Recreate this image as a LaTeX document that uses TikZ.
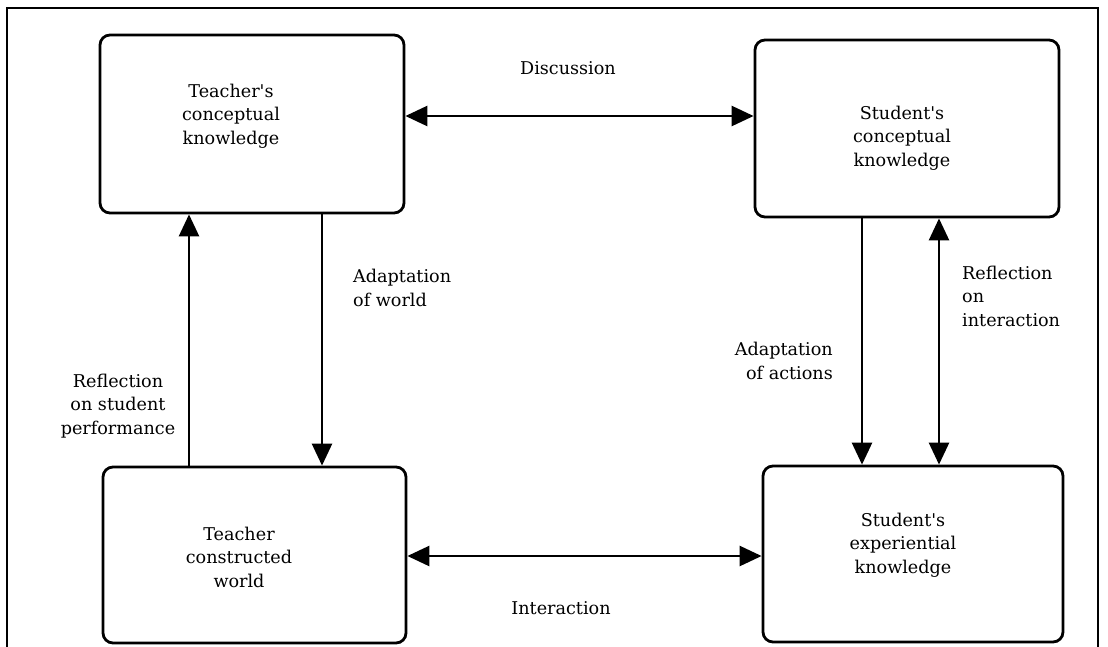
\documentclass[tikz,border=0pt]{standalone}
\usepackage{fontspec}
\setmainfont{DejaVu Serif}
\usetikzlibrary{arrows.meta}
\begin{document}
\begin{tikzpicture}[x=1pt,y=-1pt,
  box/.style={draw,line width=2.8pt,rounded corners=10pt,inner sep=0pt},
  txt/.style={align=center,font=\fontsize{17.6}{23.5}\selectfont,inner sep=0pt},
  lbl/.style={font=\fontsize{17.6}{23.5}\selectfont,inner sep=0pt},
  conn/.style={line width=2.6pt,-{Triangle[length=22pt,width=20pt]}},
  conn2/.style={line width=2.6pt,{Triangle[length=22pt,width=20pt]}-{Triangle[length=22pt,width=20pt]}}]
\useasboundingbox (0,0) rectangle (1108,646);
\draw[line width=1.3pt] (7,660) -- (7,8) -- (1098,8) -- (1098,660);
% boxes
\node[box,minimum width=304pt,minimum height=178pt] (tl) at (252,124) {};
\node[box,minimum width=304pt,minimum height=177pt] (tr) at (907,128.5) {};
\node[box,minimum width=303pt,minimum height=176pt] (bl) at (254.5,555) {};
\node[box,minimum width=300pt,minimum height=176pt] (br) at (913,554) {};
% box texts
\node[txt] (tlt) at (231,116) {Teacher\textquotesingle s\\conceptual\\knowledge};
\node[txt] (trt) at (902,138) {Student\textquotesingle s\\conceptual\\knowledge};
\node[txt] (blt) at (239,557) {Teacher\\constructed\\world};
\node[txt] (brt) at (903,545) {Student\textquotesingle s\\experiential\\knowledge};
% connector guide coordinates
\coordinate (ydisc) at (0,116);
\coordinate (yint) at (0,556);
\coordinate (xrefl) at (189,0);
\coordinate (xadw) at (322,0);
\coordinate (xada) at (862,0);
\coordinate (xrint) at (939,0);
% connectors
\draw[conn2] (tl.east |- ydisc) -- (tr.west |- ydisc);
\draw[conn2] (bl.east |- yint) -- (br.west |- yint);
\draw[conn] (bl.north -| xrefl) -- (tl.south -| xrefl);
\draw[conn] (tl.south -| xadw) -- (bl.north -| xadw);
\draw[conn] (tr.south -| xada) -- (br.north -| xada);
\draw[conn2] (tr.south -| xrint) -- (br.north -| xrint);
% labels
\node[lbl] (ldisc) at (568,68) {Discussion};
\node[lbl] (lint) at (561,608) {Interaction};
\node[lbl,align=center] (lrefl) at (118,406) {Reflection\\on student\\performance};
\node[lbl,align=left,anchor=west] (ladw) at (353,288) {Adaptation\\of world};
\node[lbl,align=right,anchor=east] (lada) at (833,361) {Adaptation\\of actions};
\node[lbl,align=left,anchor=west] (lrint) at (962,296) {Reflection\\on\\interaction};
\end{tikzpicture}
\end{document}
